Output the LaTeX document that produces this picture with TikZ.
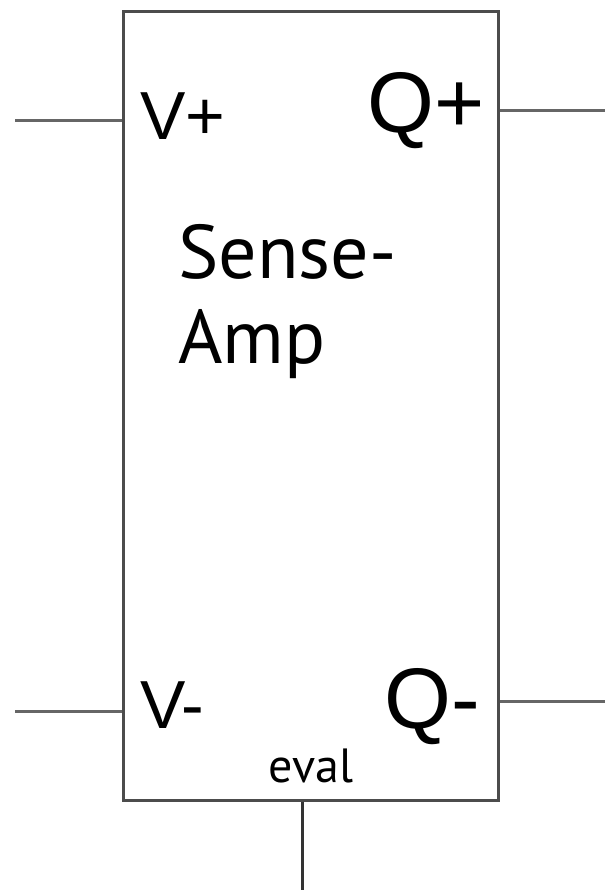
\documentclass[tikz,border=0pt]{standalone}
\usepackage{fontspec}
\newfontfamily\portfont{Liberation Sans}
\newfontfamily\labelfont{PT Sans}
\usetikzlibrary{positioning}

\begin{document}
\begin{tikzpicture}[
  x=1pt,y=-1pt,
  box/.style={draw=black!70,line width=3pt,minimum width=375pt,minimum height=788pt,inner sep=0pt},
  lead/.style={draw=black!60,line width=3pt},
  port/.style={inner sep=0pt,font=\portfont\fontsize{68}{68}\selectfont},
  bigport/.style={inner sep=0pt,font=\portfont\fontsize{86}{86}\selectfont},
  title/.style={inner sep=0pt,align=left,font=\labelfont\fontsize{76}{85}\selectfont}
]
  \useasboundingbox (0,0) rectangle (605,890);
  \node[box] (amp) at (310.5,406) {};
  % port labels
  \node[port,anchor=base west] (vp) at (140,140) {V+};
  \node[bigport,anchor=base east] (qp) at (485,133) {Q+};
  \node[port,anchor=base west] (vm) at (140,728) {V-};
  \node[bigport,anchor=base east] (qm) at (480,728) {Q-};
  \node[title,anchor=north west] (name) at (178,224) {Sense-\\Amp};
  \node[inner sep=0pt,anchor=base,font=\labelfont\fontsize{48}{48}\selectfont] (eval) at (311,782) {eval};
  % leads
  \coordinate (vpin) at (15,121);
  \coordinate (vmin) at (15,711);
  \coordinate (qpout) at (605,111);
  \coordinate (qmout) at (605,701);
  \coordinate (evin) at (302,890);
  \draw[lead] (vpin) -- (amp.west |- vpin);
  \draw[lead] (vmin) -- (amp.west |- vmin);
  \draw[lead] (amp.east |- qpout) -- (qpout);
  \draw[lead] (amp.east |- qmout) -- (qmout);
  \draw[lead,draw=black!80] (amp.south -| evin) -- (evin);
\end{tikzpicture}
\end{document}
